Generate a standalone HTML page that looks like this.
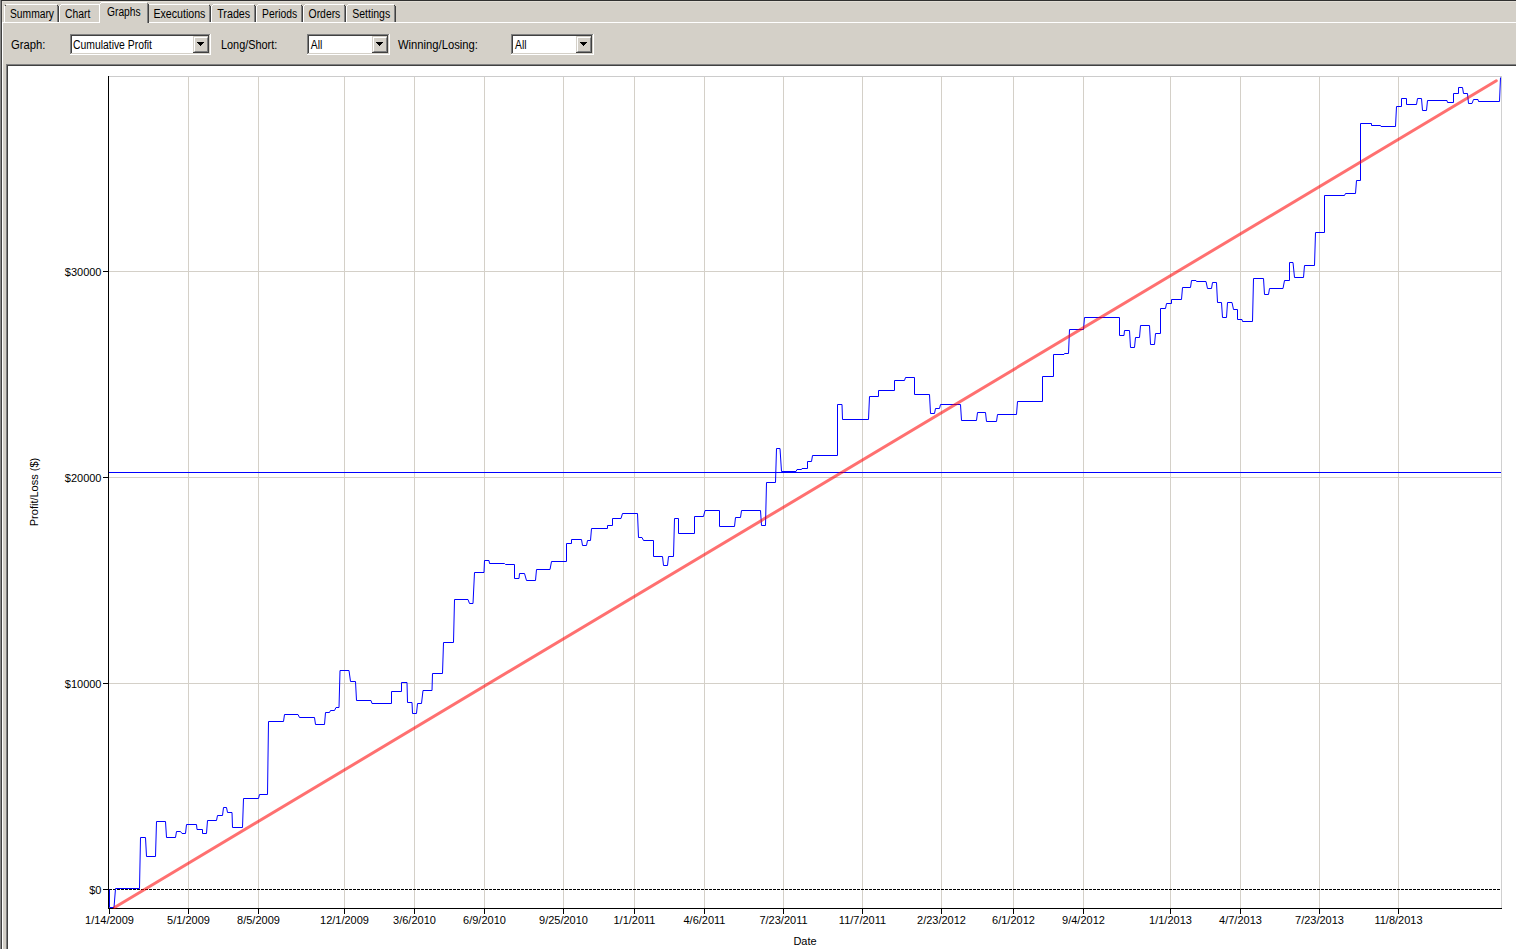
<!DOCTYPE html>
<html><head><meta charset="utf-8"><style>
html,body{margin:0;padding:0}
body{width:1516px;height:949px;overflow:hidden;position:relative;background:#D4D0C8;font-family:"Liberation Sans",sans-serif;font-size:11px;color:#000}
.a{position:absolute}
svg text{font-family:"Liberation Sans",sans-serif;font-size:11px;fill:#000}
.ui text{font-size:12px}
</style></head><body>
<div class="a" style="left:0;top:0;width:1516px;height:1px;background:#303030"></div>
<div class="a" style="left:0;top:0;width:1px;height:949px;background:#888"></div>
<div class="a" style="left:1px;top:1px;width:1px;height:948px;background:#404040"></div>
<div class="a" style="left:2px;top:1px;width:1514px;height:1px;background:#E2DED6"></div>
<div class="a" style="left:2px;top:2px;width:1px;height:20px;background:#E2DED6"></div>
<!-- panel border -->
<div class="a" style="left:2px;top:22px;width:1514px;height:1px;background:#fff"></div>
<div class="a" style="left:2px;top:22px;width:1px;height:927px;background:#fff"></div>
<div class="a" style="left:4px;top:4px;width:55px;height:18px;background:#D4D0C8">
<div class="a" style="left:2px;top:0;width:51px;height:1px;background:#fff"></div>
<div class="a" style="left:0;top:2px;width:1px;height:16px;background:#fff"></div>
<div class="a" style="left:1px;top:1px;width:1px;height:1px;background:#404040"></div>
<div class="a" style="left:53px;top:2px;width:1px;height:16px;background:#808080"></div>
<div class="a" style="left:53px;top:1px;width:1px;height:1px;background:#404040"></div>
<div class="a" style="left:54px;top:2px;width:1px;height:16px;background:#404040"></div>
</div>
<div class="a" style="left:59px;top:4px;width:42px;height:18px;background:#D4D0C8">
<div class="a" style="left:2px;top:0;width:38px;height:1px;background:#fff"></div>
<div class="a" style="left:0;top:2px;width:1px;height:16px;background:#fff"></div>
<div class="a" style="left:1px;top:1px;width:1px;height:1px;background:#fff"></div>
<div class="a" style="left:40px;top:2px;width:1px;height:16px;background:#808080"></div>
<div class="a" style="left:40px;top:1px;width:1px;height:1px;background:#404040"></div>
<div class="a" style="left:41px;top:2px;width:1px;height:16px;background:#404040"></div>
</div>
<div class="a" style="left:147px;top:4px;width:64px;height:18px;background:#D4D0C8">
<div class="a" style="left:2px;top:0;width:60px;height:1px;background:#fff"></div>
<div class="a" style="left:0;top:2px;width:1px;height:16px;background:#fff"></div>
<div class="a" style="left:1px;top:1px;width:1px;height:1px;background:#fff"></div>
<div class="a" style="left:62px;top:2px;width:1px;height:16px;background:#808080"></div>
<div class="a" style="left:62px;top:1px;width:1px;height:1px;background:#404040"></div>
<div class="a" style="left:63px;top:2px;width:1px;height:16px;background:#404040"></div>
</div>
<div class="a" style="left:211px;top:4px;width:45px;height:18px;background:#D4D0C8">
<div class="a" style="left:2px;top:0;width:41px;height:1px;background:#fff"></div>
<div class="a" style="left:0;top:2px;width:1px;height:16px;background:#fff"></div>
<div class="a" style="left:1px;top:1px;width:1px;height:1px;background:#fff"></div>
<div class="a" style="left:43px;top:2px;width:1px;height:16px;background:#808080"></div>
<div class="a" style="left:43px;top:1px;width:1px;height:1px;background:#404040"></div>
<div class="a" style="left:44px;top:2px;width:1px;height:16px;background:#404040"></div>
</div>
<div class="a" style="left:256px;top:4px;width:47px;height:18px;background:#D4D0C8">
<div class="a" style="left:2px;top:0;width:43px;height:1px;background:#fff"></div>
<div class="a" style="left:0;top:2px;width:1px;height:16px;background:#fff"></div>
<div class="a" style="left:1px;top:1px;width:1px;height:1px;background:#fff"></div>
<div class="a" style="left:45px;top:2px;width:1px;height:16px;background:#808080"></div>
<div class="a" style="left:45px;top:1px;width:1px;height:1px;background:#404040"></div>
<div class="a" style="left:46px;top:2px;width:1px;height:16px;background:#404040"></div>
</div>
<div class="a" style="left:303px;top:4px;width:43px;height:18px;background:#D4D0C8">
<div class="a" style="left:2px;top:0;width:39px;height:1px;background:#fff"></div>
<div class="a" style="left:0;top:2px;width:1px;height:16px;background:#fff"></div>
<div class="a" style="left:1px;top:1px;width:1px;height:1px;background:#fff"></div>
<div class="a" style="left:41px;top:2px;width:1px;height:16px;background:#808080"></div>
<div class="a" style="left:41px;top:1px;width:1px;height:1px;background:#404040"></div>
<div class="a" style="left:42px;top:2px;width:1px;height:16px;background:#404040"></div>
</div>
<div class="a" style="left:346px;top:4px;width:50px;height:18px;background:#D4D0C8">
<div class="a" style="left:2px;top:0;width:46px;height:1px;background:#fff"></div>
<div class="a" style="left:0;top:2px;width:1px;height:16px;background:#fff"></div>
<div class="a" style="left:1px;top:1px;width:1px;height:1px;background:#fff"></div>
<div class="a" style="left:48px;top:2px;width:1px;height:16px;background:#808080"></div>
<div class="a" style="left:48px;top:1px;width:1px;height:1px;background:#404040"></div>
<div class="a" style="left:49px;top:2px;width:1px;height:16px;background:#404040"></div>
</div>
<div class="a" style="left:99px;top:2px;width:50px;height:21px;background:#D4D0C8">
<div class="a" style="left:2px;top:0;width:46px;height:1px;background:#fff"></div>
<div class="a" style="left:0;top:2px;width:1px;height:19px;background:#fff"></div>
<div class="a" style="left:1px;top:1px;width:1px;height:1px;background:#fff"></div>
<div class="a" style="left:48px;top:1px;width:1px;height:20px;background:#808080"></div>
<div class="a" style="left:49px;top:2px;width:1px;height:19px;background:#404040"></div>
</div>
<div style="position:absolute;left:70px;top:34px;width:141px;height:21px;background:#fff;">
<div style="position:absolute;left:0;top:0;width:141px;height:1px;background:#808080"></div>
<div style="position:absolute;left:0;top:0;width:1px;height:21px;background:#808080"></div>
<div style="position:absolute;left:1px;top:1px;width:139px;height:1px;background:#404040"></div>
<div style="position:absolute;left:1px;top:1px;width:1px;height:19px;background:#404040"></div>
<div style="position:absolute;left:0;top:20px;width:141px;height:1px;background:#fff"></div>
<div style="position:absolute;left:140px;top:0;width:1px;height:21px;background:#fff"></div>
<div style="position:absolute;left:1px;top:19px;width:139px;height:1px;background:#D4D0C8"></div>
<div style="position:absolute;left:139px;top:1px;width:1px;height:19px;background:#D4D0C8"></div>
<div style="position:absolute;left:123px;top:2px;width:16px;height:17px;background:#D4D0C8;box-sizing:border-box;border-right:1px solid #404040;border-bottom:1px solid #404040;">
<div style="position:absolute;left:0;top:0;width:15px;height:16px;box-sizing:border-box;border-left:1px solid #D4D0C8;border-top:1px solid #D4D0C8;"></div>
<div style="position:absolute;left:1px;top:1px;width:14px;height:15px;box-sizing:border-box;border-left:1px solid #fff;border-top:1px solid #fff;border-right:1px solid #808080;border-bottom:1px solid #808080;"></div>
<svg style="position:absolute;left:0;top:0" width="16" height="17"><path d="M4 6h7v1h-1v1h-1v1h-1v1h-1v-1h-1v-1h-1v-1h-1z" fill="#000"/></svg>
</div>
</div>
<div style="position:absolute;left:307px;top:34px;width:83px;height:21px;background:#fff;">
<div style="position:absolute;left:0;top:0;width:83px;height:1px;background:#808080"></div>
<div style="position:absolute;left:0;top:0;width:1px;height:21px;background:#808080"></div>
<div style="position:absolute;left:1px;top:1px;width:81px;height:1px;background:#404040"></div>
<div style="position:absolute;left:1px;top:1px;width:1px;height:19px;background:#404040"></div>
<div style="position:absolute;left:0;top:20px;width:83px;height:1px;background:#fff"></div>
<div style="position:absolute;left:82px;top:0;width:1px;height:21px;background:#fff"></div>
<div style="position:absolute;left:1px;top:19px;width:81px;height:1px;background:#D4D0C8"></div>
<div style="position:absolute;left:81px;top:1px;width:1px;height:19px;background:#D4D0C8"></div>
<div style="position:absolute;left:65px;top:2px;width:16px;height:17px;background:#D4D0C8;box-sizing:border-box;border-right:1px solid #404040;border-bottom:1px solid #404040;">
<div style="position:absolute;left:0;top:0;width:15px;height:16px;box-sizing:border-box;border-left:1px solid #D4D0C8;border-top:1px solid #D4D0C8;"></div>
<div style="position:absolute;left:1px;top:1px;width:14px;height:15px;box-sizing:border-box;border-left:1px solid #fff;border-top:1px solid #fff;border-right:1px solid #808080;border-bottom:1px solid #808080;"></div>
<svg style="position:absolute;left:0;top:0" width="16" height="17"><path d="M4 6h7v1h-1v1h-1v1h-1v1h-1v-1h-1v-1h-1v-1h-1z" fill="#000"/></svg>
</div>
</div>
<div style="position:absolute;left:511px;top:34px;width:83px;height:21px;background:#fff;">
<div style="position:absolute;left:0;top:0;width:83px;height:1px;background:#808080"></div>
<div style="position:absolute;left:0;top:0;width:1px;height:21px;background:#808080"></div>
<div style="position:absolute;left:1px;top:1px;width:81px;height:1px;background:#404040"></div>
<div style="position:absolute;left:1px;top:1px;width:1px;height:19px;background:#404040"></div>
<div style="position:absolute;left:0;top:20px;width:83px;height:1px;background:#fff"></div>
<div style="position:absolute;left:82px;top:0;width:1px;height:21px;background:#fff"></div>
<div style="position:absolute;left:1px;top:19px;width:81px;height:1px;background:#D4D0C8"></div>
<div style="position:absolute;left:81px;top:1px;width:1px;height:19px;background:#D4D0C8"></div>
<div style="position:absolute;left:65px;top:2px;width:16px;height:17px;background:#D4D0C8;box-sizing:border-box;border-right:1px solid #404040;border-bottom:1px solid #404040;">
<div style="position:absolute;left:0;top:0;width:15px;height:16px;box-sizing:border-box;border-left:1px solid #D4D0C8;border-top:1px solid #D4D0C8;"></div>
<div style="position:absolute;left:1px;top:1px;width:14px;height:15px;box-sizing:border-box;border-left:1px solid #fff;border-top:1px solid #fff;border-right:1px solid #808080;border-bottom:1px solid #808080;"></div>
<svg style="position:absolute;left:0;top:0" width="16" height="17"><path d="M4 6h7v1h-1v1h-1v1h-1v1h-1v-1h-1v-1h-1v-1h-1z" fill="#000"/></svg>
</div>
</div>
<!-- chart box -->
<div class="a" style="left:6px;top:64px;width:1510px;height:885px;background:#fff"></div>
<div class="a" style="left:6px;top:64px;width:1510px;height:1px;background:#808080"></div>
<div class="a" style="left:6px;top:64px;width:1px;height:885px;background:#808080"></div>
<div class="a" style="left:7px;top:65px;width:1509px;height:1px;background:#404040"></div>
<div class="a" style="left:7px;top:65px;width:1px;height:884px;background:#404040"></div>
<svg class="a" style="left:0;top:0" width="1516" height="949">
<g shape-rendering="crispEdges"><rect x="188" y="77" width="1" height="831" fill="#D4D0C8"/><rect x="258" y="77" width="1" height="831" fill="#D4D0C8"/><rect x="344" y="77" width="1" height="831" fill="#D4D0C8"/><rect x="414" y="77" width="1" height="831" fill="#D4D0C8"/><rect x="484" y="77" width="1" height="831" fill="#D4D0C8"/><rect x="563" y="77" width="1" height="831" fill="#D4D0C8"/><rect x="634" y="77" width="1" height="831" fill="#D4D0C8"/><rect x="704" y="77" width="1" height="831" fill="#D4D0C8"/><rect x="783" y="77" width="1" height="831" fill="#D4D0C8"/><rect x="862" y="77" width="1" height="831" fill="#D4D0C8"/><rect x="941" y="77" width="1" height="831" fill="#D4D0C8"/><rect x="1013" y="77" width="1" height="831" fill="#D4D0C8"/><rect x="1083" y="77" width="1" height="831" fill="#D4D0C8"/><rect x="1170" y="77" width="1" height="831" fill="#D4D0C8"/><rect x="1240" y="77" width="1" height="831" fill="#D4D0C8"/><rect x="1319" y="77" width="1" height="831" fill="#D4D0C8"/><rect x="1398" y="77" width="1" height="831" fill="#D4D0C8"/><rect x="109" y="271" width="1392" height="1" fill="#D4D0C8"/><rect x="109" y="477" width="1392" height="1" fill="#D4D0C8"/><rect x="109" y="683" width="1392" height="1" fill="#D4D0C8"/><rect x="108" y="76" width="1394" height="1" fill="#CCCCCC"/><rect x="1501" y="76" width="1" height="832" fill="#D0D0D0"/><rect x="108" y="76" width="1" height="833" fill="#000"/><rect x="108" y="908" width="1394" height="1" fill="#000"/><rect x="103" y="271" width="5" height="1" fill="#000"/><rect x="103" y="477" width="5" height="1" fill="#000"/><rect x="103" y="683" width="5" height="1" fill="#000"/><rect x="103" y="889" width="5" height="1" fill="#000"/><rect x="109" y="909" width="1" height="5" fill="#000"/><rect x="188" y="909" width="1" height="5" fill="#000"/><rect x="258" y="909" width="1" height="5" fill="#000"/><rect x="344" y="909" width="1" height="5" fill="#000"/><rect x="414" y="909" width="1" height="5" fill="#000"/><rect x="484" y="909" width="1" height="5" fill="#000"/><rect x="563" y="909" width="1" height="5" fill="#000"/><rect x="634" y="909" width="1" height="5" fill="#000"/><rect x="704" y="909" width="1" height="5" fill="#000"/><rect x="783" y="909" width="1" height="5" fill="#000"/><rect x="862" y="909" width="1" height="5" fill="#000"/><rect x="941" y="909" width="1" height="5" fill="#000"/><rect x="1013" y="909" width="1" height="5" fill="#000"/><rect x="1083" y="909" width="1" height="5" fill="#000"/><rect x="1170" y="909" width="1" height="5" fill="#000"/><rect x="1240" y="909" width="1" height="5" fill="#000"/><rect x="1319" y="909" width="1" height="5" fill="#000"/><rect x="1398" y="909" width="1" height="5" fill="#000"/><rect x="109" y="472" width="1392" height="1" fill="#0000FF"/></g>
<line x1="109" y1="889.5" x2="1501" y2="889.5" stroke="#000" stroke-width="1" stroke-dasharray="3 1" shape-rendering="crispEdges"/><polyline points="109.5,889.5 109.5,907.5 114,907.5 115.5,888.5 139.5,888.5 140.5,837.5 145.5,837.5 146.5,856.5 155.5,856.5 156.5,821.5 165.5,821.5 166.5,837.5 175.5,837.5 176.5,831.5 180.5,831.5 182,833.5 185.5,833.5 186.5,824.5 196.5,824.5 197,829.5 202.5,829.5 202.5,833.5 206.5,833.5 207.5,820.5 216.5,820.5 217.5,815.5 222.5,815.5 223.5,807.5 226.5,807.5 227.5,812.5 232,812.5 232.5,827.5 242.5,827.5 243.5,798.5 258.5,798.5 259.5,794.5 267.5,794.5 268.5,721.5 283.5,721.5 284.5,714.5 298,714.5 299.5,717.5 314.5,717.5 315.5,724.5 324.5,724.5 325.5,712.5 329.5,712.5 330.5,710.5 334.5,710.5 336,707.5 339,707.5 340,670.5 349,670.5 350.5,681.5 355.5,681.5 356.5,700.5 371,700.5 372,703.5 391.5,703.5 391.5,691.5 401.5,691.5 401.5,682.5 407,682.5 407.5,702.5 412,702.5 412.5,713.5 416.5,713.5 417.5,703.5 421.5,703.5 423,690.5 432,690.5 432.5,673.5 442.5,673.5 443.5,642.5 453.5,642.5 454.5,599.5 468,599.5 469.5,603.5 473,603.5 474.5,572.5 484,572.5 484.5,560.5 489,560.5 489.5,563.5 504.5,563.5 505.5,564.5 514.5,564.5 514.5,578.5 519,578.5 519.5,573.5 524.5,573.5 526.5,580.5 535.5,580.5 536.5,569.5 550,569.5 551.5,561.5 566.5,561.5 566.5,543.5 571.5,543.5 571.5,539.5 581.5,539.5 582.5,545.5 586.5,545.5 587.5,540.5 590.5,540.5 591.5,528.5 607.5,528.5 607.5,525.5 612.5,525.5 612.5,518.5 621,518.5 622.5,513.5 637.5,513.5 638.5,537.5 642,537.5 643.5,540.5 653.5,540.5 653.5,556.5 662.5,556.5 663.5,565.5 667.5,565.5 668.5,556.5 673.5,556.5 674.5,518.5 678.5,518.5 678.5,533.5 694.5,533.5 694.5,516.5 703.5,516.5 705,510.5 719.5,510.5 719.5,526.5 734.5,526.5 735.5,517.5 740.5,517.5 741.5,510.5 760.5,510.5 761.5,525.5 765.5,525.5 766.5,482.5 775.5,482.5 776.5,448.5 780,448.5 781.5,471.5 796,471.5 797,469.5 801.5,469.5 802,468.5 807.5,468.5 807.5,461.5 811.5,461.5 812.5,455.5 837.5,455.5 837.5,404.5 842,404.5 842.5,419.5 868.5,419.5 869.5,396.5 878.5,396.5 878.5,390.5 894.5,390.5 894.5,380.5 904.5,380.5 905.5,377.5 914.5,377.5 914.5,394.5 929.5,394.5 930.5,413.5 934.5,413.5 935.5,408.5 939.5,408.5 940.5,404.5 960.5,404.5 961.5,420.5 976.5,420.5 977.5,412.5 985.5,412.5 986.5,421.5 996.5,421.5 997.5,414.5 1016.5,414.5 1017.5,401.5 1042.5,401.5 1042.5,376.5 1053.5,376.5 1053.5,354.5 1064,354.5 1064.5,353.5 1068.5,353.5 1069.5,329.5 1083.5,329.5 1084.5,317.5 1119.5,317.5 1119.5,335.5 1124,335.5 1124.5,330.5 1129.5,330.5 1130.5,347.5 1134.5,347.5 1135.5,337.5 1139.5,337.5 1140.5,325.5 1149.5,325.5 1150.5,344.5 1154.5,344.5 1155.5,333.5 1160.5,333.5 1160.5,308.5 1165.5,308.5 1166.5,303.5 1171.5,303.5 1171.5,299.5 1181.5,299.5 1182.5,287.5 1190.5,287.5 1191.5,280.5 1196,280.5 1196.5,281.5 1206,281.5 1207.5,288.5 1211.5,288.5 1212.5,282.5 1216.5,282.5 1217.5,302.5 1221.5,302.5 1222.5,317.5 1226.5,317.5 1227.5,302.5 1232,302.5 1233.5,309.5 1237.5,309.5 1237.5,319.5 1242,319.5 1242.5,321.5 1252.5,321.5 1253.5,278.5 1263.5,278.5 1264.5,294.5 1268.5,294.5 1269.5,288.5 1283,288.5 1284.5,280.5 1289.5,280.5 1289.5,262.5 1293,262.5 1294.5,277.5 1303.5,277.5 1304.5,265.5 1314.5,265.5 1315.5,232.5 1324.5,232.5 1324.5,195.5 1344.5,195.5 1345.5,193.5 1355.5,193.5 1356.5,180.5 1360.5,180.5 1360.5,123.5 1371.5,123.5 1371.5,125.5 1380.5,125.5 1381,126.5 1395.5,126.5 1396.5,106.5 1401.5,106.5 1401.5,98.5 1406.5,98.5 1406.5,104.5 1416.5,104.5 1417.5,98.5 1421.5,98.5 1422.5,110.5 1426.5,110.5 1427.5,100.5 1447,100.5 1447.5,102.5 1453.5,102.5 1453.5,93.5 1458.5,93.5 1458.5,87.5 1462.5,87.5 1463.5,93.5 1467.5,93.5 1468.5,103.5 1472,103.5 1473.5,99.5 1478,99.5 1478.5,101.5 1499.5,101.5 1500.5,77.5" fill="none" stroke="#0000FF" stroke-width="1" stroke-linejoin="miter"/><line x1="114.5" y1="907.5" x2="1496.3" y2="80.75" stroke="rgba(255,0,0,0.56)" stroke-width="3" stroke-linecap="round"/>
<g class="ui">
<text x="11" y="49" textLength="34.4" lengthAdjust="spacingAndGlyphs">Graph:</text>
<text x="221" y="49" textLength="56.3" lengthAdjust="spacingAndGlyphs">Long/Short:</text>
<text x="398" y="49" textLength="80" lengthAdjust="spacingAndGlyphs">Winning/Losing:</text>
<text x="73" y="49" textLength="79" lengthAdjust="spacingAndGlyphs">Cumulative Profit</text>
<text x="310.8" y="49" textLength="11.5" lengthAdjust="spacingAndGlyphs">All</text>
<text x="515" y="49" textLength="11.5" lengthAdjust="spacingAndGlyphs">All</text>
<text x="10" y="18" textLength="44" lengthAdjust="spacingAndGlyphs">Summary</text>
<text x="65" y="18" textLength="25.3" lengthAdjust="spacingAndGlyphs">Chart</text>
<text x="107" y="16" textLength="33.6" lengthAdjust="spacingAndGlyphs">Graphs</text>
<text x="153.4" y="18" textLength="52" lengthAdjust="spacingAndGlyphs">Executions</text>
<text x="217.2" y="18" textLength="33" lengthAdjust="spacingAndGlyphs">Trades</text>
<text x="262.1" y="18" textLength="35" lengthAdjust="spacingAndGlyphs">Periods</text>
<text x="308.6" y="18" textLength="31.7" lengthAdjust="spacingAndGlyphs">Orders</text>
<text x="352.2" y="18" textLength="38" lengthAdjust="spacingAndGlyphs">Settings</text>
</g>
<text x="101.5" y="276" text-anchor="end">$30000</text><text x="101.5" y="482" text-anchor="end">$20000</text><text x="101.5" y="688" text-anchor="end">$10000</text><text x="101.5" y="894" text-anchor="end">$0</text><text x="109.5" y="924" text-anchor="middle">1/14/2009</text><text x="188.5" y="924" text-anchor="middle">5/1/2009</text><text x="258.5" y="924" text-anchor="middle">8/5/2009</text><text x="344.5" y="924" text-anchor="middle">12/1/2009</text><text x="414.5" y="924" text-anchor="middle">3/6/2010</text><text x="484.5" y="924" text-anchor="middle">6/9/2010</text><text x="563.5" y="924" text-anchor="middle">9/25/2010</text><text x="634.5" y="924" text-anchor="middle">1/1/2011</text><text x="704.5" y="924" text-anchor="middle">4/6/2011</text><text x="783.5" y="924" text-anchor="middle">7/23/2011</text><text x="862.5" y="924" text-anchor="middle">11/7/2011</text><text x="941.5" y="924" text-anchor="middle">2/23/2012</text><text x="1013.5" y="924" text-anchor="middle">6/1/2012</text><text x="1083.5" y="924" text-anchor="middle">9/4/2012</text><text x="1170.5" y="924" text-anchor="middle">1/1/2013</text><text x="1240.5" y="924" text-anchor="middle">4/7/2013</text><text x="1319.5" y="924" text-anchor="middle">7/23/2013</text><text x="1398.5" y="924" text-anchor="middle">11/8/2013</text><text x="805" y="945" text-anchor="middle">Date</text><text transform="translate(38 492) rotate(-90)" text-anchor="middle">Profit/Loss ($)</text>
</svg>
</body></html>
